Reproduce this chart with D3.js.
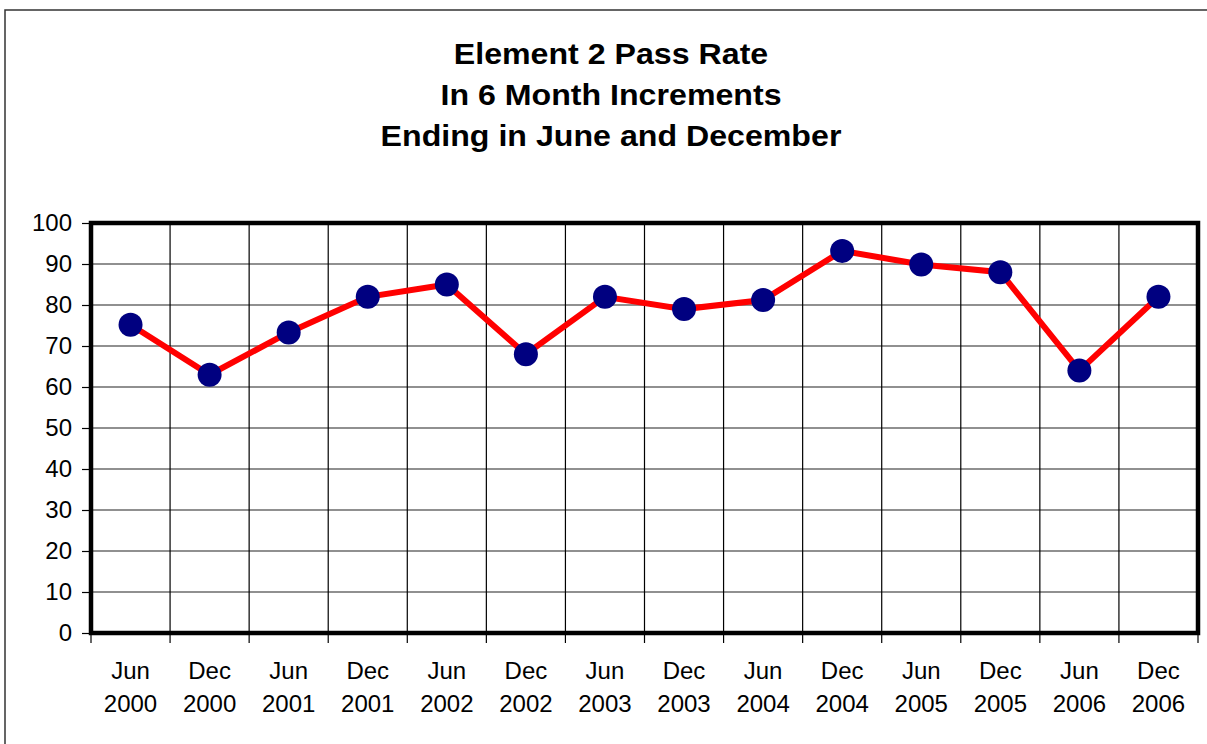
<!DOCTYPE html>
<html>
<head>
<meta charset="utf-8">
<script src="https://cdn.jsdelivr.net/npm/d3@7"></script>
<style>
  body { margin: 0; background: #fff; }
  text { font-family: "Liberation Sans", Arial, sans-serif; }
</style>
</head>
<body>
<div id="chart-area"></div>
<script>
// Data
var months = ["Jun", "Dec", "Jun", "Dec", "Jun", "Dec", "Jun", "Dec", "Jun", "Dec", "Jun", "Dec", "Jun", "Dec"];
var years = ["2000", "2000", "2001", "2001", "2002", "2002", "2003", "2003", "2004", "2004", "2005", "2005", "2006", "2006"];
var passRate = [75.2, 63, 73.3, 82, 85, 68, 82, 79, 81.2, 93.2, 89.9, 88, 64, 82];
var yTicks = [0, 10, 20, 30, 40, 50, 60, 70, 80, 90, 100];
var titleLines = ["Element 2 Pass Rate", "In 6 Month Increments", "Ending in June and December"];

var W = 1207, H = 744;
var margin = { left: 91, right: 9, top: 223, bottom: 111 },
    width = W - margin.left - margin.right,
    height = H - margin.top - margin.bottom;

var svg = d3.select("#chart-area").append("svg")
    .attr("width", W)
    .attr("height", H);

// Outer chart frame
svg.append("rect")
    .attr("x", 5).attr("y", 10)
    .attr("width", 1240).attr("height", 800)
    .attr("fill", "none")
    .attr("stroke", "#333")
    .attr("stroke-width", 1.5);

// Title (slightly stretched horizontally, like the original)
svg.append("g")
    .attr("transform", "translate(611,0) scale(1.12,1)")
  .append("text")
    .attr("text-anchor", "middle")
    .attr("font-size", "28.7px")
    .attr("font-weight", "bold")
    .selectAll("tspan")
    .data(titleLines)
    .enter().append("tspan")
    .attr("x", 0)
    .attr("y", function(d, i) { return 64 + i * 41; })
    .text(function(d) { return d; });

var g = svg.append("g")
    .attr("transform", "translate(" + margin.left + "," + margin.top + ")");

var cats = passRate.map(function(d, i) { return i; });

// Scales
var x = d3.scaleBand().domain(cats).range([0, width]).padding(0);
var y = d3.scaleLinear().domain([0, 100]).range([height, 0]);

// Horizontal gridlines
g.selectAll(".hgrid")
    .data(yTicks.slice(1, -1))
    .enter().append("line")
    .attr("x1", 0).attr("x2", width)
    .attr("y1", function(d) { return y(d); })
    .attr("y2", function(d) { return y(d); })
    .attr("stroke", "#222")
    .attr("stroke-width", 1.2);

// Vertical gridlines at category boundaries
g.selectAll(".vgrid")
    .data(cats.slice(1))
    .enter().append("line")
    .attr("x1", function(d) { return x(d); })
    .attr("x2", function(d) { return x(d); })
    .attr("y1", 0).attr("y2", height)
    .attr("stroke", "#000")
    .attr("stroke-width", 1.2);

// X tick marks below the axis
g.selectAll(".xtick")
    .data(cats.concat([cats.length]))
    .enter().append("line")
    .attr("x1", function(d) { return d < cats.length ? x(d) : width; })
    .attr("x2", function(d) { return d < cats.length ? x(d) : width; })
    .attr("y1", height).attr("y2", height + 10)
    .attr("stroke", "#000")
    .attr("stroke-width", 1.2);

// Y axis
var yAxisCall = d3.axisLeft(y)
    .tickValues(yTicks)
    .tickSize(9)
    .tickPadding(10);
var yAxis = g.append("g").call(yAxisCall);
yAxis.select(".domain").remove();
yAxis.selectAll("line").attr("stroke-width", 1.2);
yAxis.selectAll("text")
    .attr("font-size", "24px")
    .attr("font-family", "'Liberation Sans', Arial, sans-serif")
    .attr("fill", "#000");

// X labels (two lines)
var xl = g.selectAll(".xlabel")
    .data(cats)
    .enter().append("text")
    .attr("text-anchor", "middle")
    .attr("font-size", "24px")
    .attr("fill", "#000");
xl.append("tspan")
    .attr("x", function(d) { return x(d) + x.bandwidth() / 2; })
    .attr("y", height + 46)
    .text(function(d) { return months[d]; });
xl.append("tspan")
    .attr("x", function(d) { return x(d) + x.bandwidth() / 2; })
    .attr("y", height + 79)
    .text(function(d) { return years[d]; });

// Plot area border
g.append("rect")
    .attr("x", 0).attr("y", 0)
    .attr("width", width).attr("height", height)
    .attr("fill", "none")
    .attr("stroke", "#000")
    .attr("stroke-width", 4.5);

// Line
var line = d3.line()
    .x(function(d, i) { return x(i) + x.bandwidth() / 2; })
    .y(function(d) { return y(d); });

g.append("path")
    .datum(passRate)
    .attr("fill", "none")
    .attr("stroke", "#ff0000")
    .attr("stroke-width", 6)
    .attr("d", line);

// Markers
g.selectAll(".dot")
    .data(passRate)
    .enter().append("circle")
    .attr("cx", function(d, i) { return x(i) + x.bandwidth() / 2; })
    .attr("cy", function(d) { return y(d); })
    .attr("r", 12)
    .attr("fill", "#000080");
</script>
</body>
</html>
